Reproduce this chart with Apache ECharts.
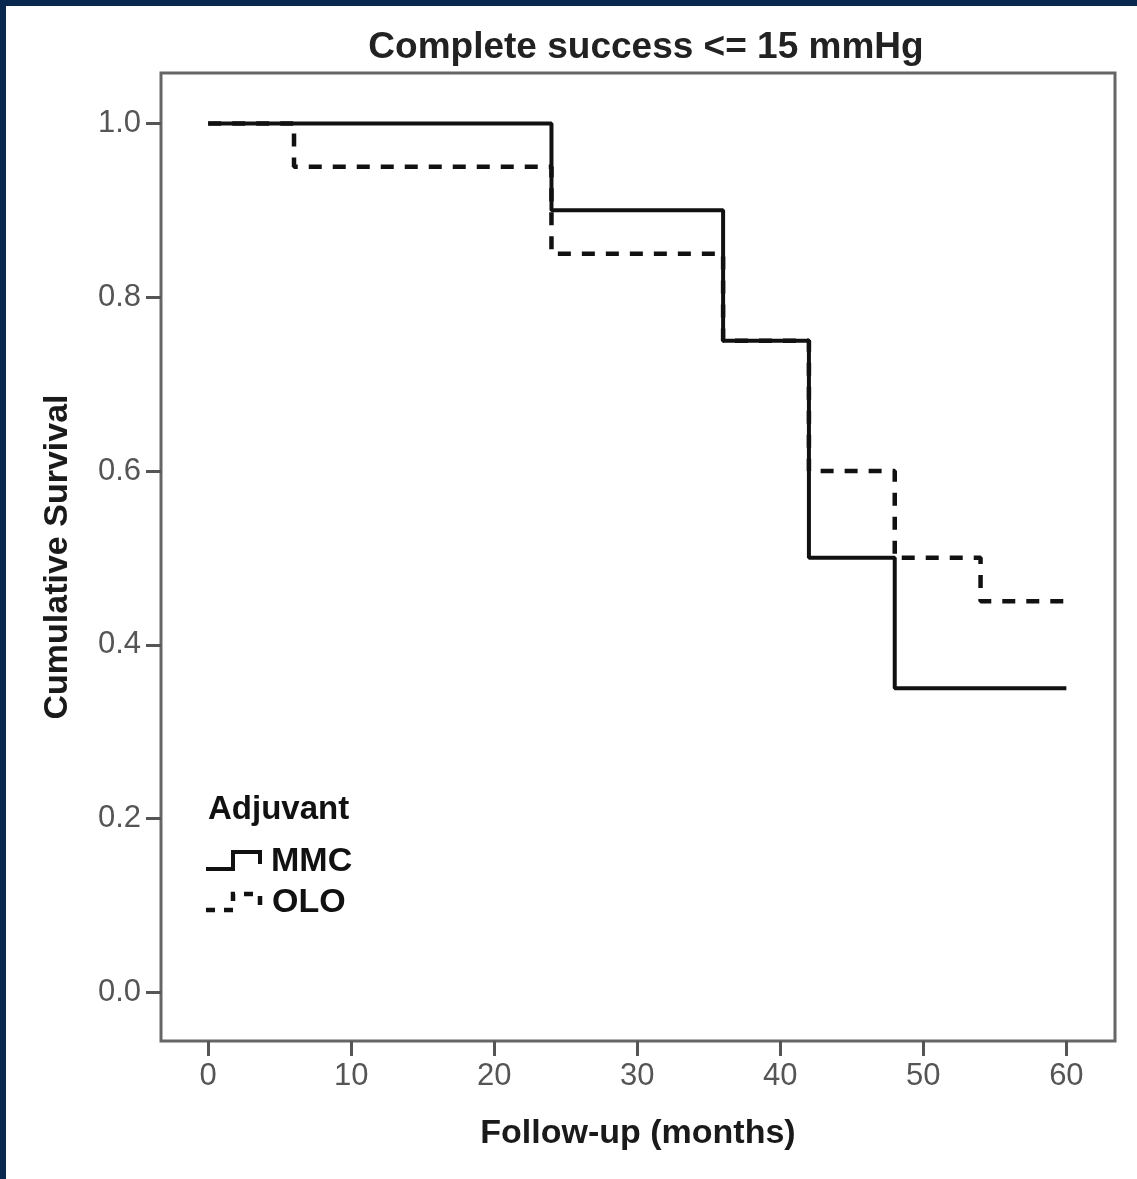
<!DOCTYPE html>
<html>
<head>
<meta charset="utf-8">
<script src="https://cdn.jsdelivr.net/npm/echarts@6/dist/echarts.min.js"></script>
<style>
  html, body { margin: 0; padding: 0; background: #fff; }
  #main { width: 1137px; height: 1179px; }
</style>
</head>
<body>
<div id="main"></div>
<script>
// Kaplan-Meier steps (months, cumulative survival)
const mmcTimes = [0, 24, 36, 42, 48, 60];
const mmcSurv = [1.0, 0.9, 0.75, 0.5, 0.35, 0.35];
const oloTimes = [0, 6, 24, 36, 42, 48, 54, 60];
const oloSurv = [1.0, 0.95, 0.85, 0.75, 0.6, 0.5, 0.45, 0.45];

const xTicks = [0, 10, 20, 30, 40, 50, 60];
const yTicks = [0, 0.2, 0.4, 0.6, 0.8, 1.0];

const font = '"Liberation Sans", Arial, sans-serif';

function pairs(times, surv) {
    return times.map(function (t, i) { return [t, surv[i]]; });
}

var myChart = echarts.init(document.getElementById('main'), null, { renderer: 'canvas' });

var option = {
    backgroundColor: '#fff',
    animation: false,
    title: {
        text: 'Complete success <= 15 mmHg',
        left: 641,
        textAlign: 'center',
        top: 24,
        textStyle: { fontFamily: font, fontSize: 37, fontWeight: 'bold', color: '#222' }
    },
    grid: {
        left: 161, right: 22, top: 73, bottom: 138,
        show: true, borderColor: '#666', borderWidth: 3, backgroundColor: '#fff'
    },
    xAxis: {
        type: 'value',
        min: -3.3, max: 63.4,
        name: 'Follow-up (months)',
        nameLocation: 'middle',
        nameGap: 76,
        nameTextStyle: { fontFamily: font, fontSize: 34, fontWeight: 'bold', color: '#1a1a1a' },
        axisLine: { show: false, onZero: false },
        splitLine: { show: false },
        axisTick: { show: true, inside: false, length: 15, customValues: xTicks, lineStyle: { color: '#555', width: 3 } },
        axisLabel: { customValues: xTicks, margin: 20, fontFamily: font, fontSize: 31, color: '#555' }
    },
    yAxis: {
        type: 'value',
        min: -0.056, max: 1.058,
        name: 'Cumulative Survival',
        nameLocation: 'middle',
        nameGap: 86,
        nameTextStyle: { fontFamily: font, fontSize: 34, fontWeight: 'bold', color: '#1a1a1a' },
        axisLine: { show: false, onZero: false },
        splitLine: { show: false },
        axisTick: { show: true, inside: false, length: 15, customValues: yTicks, lineStyle: { color: '#555', width: 3 } },
        axisLabel: {
            customValues: yTicks, margin: 20, fontFamily: font, fontSize: 31, color: '#555',
            formatter: function (v) { return v.toFixed(1); }
        }
    },
    series: [
        {
            name: 'OLO',
            type: 'line',
            step: 'end',
            symbol: 'none',
            silent: true,
            lineStyle: { color: '#111', width: 4.5, type: [13, 11] },
            data: pairs(oloTimes, oloSurv),
            z: 2
        },
        {
            name: 'MMC',
            type: 'line',
            step: 'end',
            symbol: 'none',
            silent: true,
            lineStyle: { color: '#111', width: 4 },
            data: pairs(mmcTimes, mmcSurv),
            z: 3
        }
    ],
    graphic: [
        // navy frame edges
        { type: 'rect', shape: { x: 0, y: 0, width: 1137, height: 6 }, style: { fill: '#08284f' } },
        { type: 'rect', shape: { x: 0, y: 0, width: 6, height: 1179 }, style: { fill: '#08284f' } },
        // legend
        { type: 'text', x: 208, y: 810, style: { text: 'Adjuvant', font: 'bold 33px ' + font, fill: '#111', textVerticalAlign: 'middle' } },
        {
            type: 'polyline',
            shape: { points: [[206, 869], [233, 869], [233, 852], [260, 852], [260, 864]] },
            style: { stroke: '#111', lineWidth: 4, fill: null }
        },
        { type: 'text', x: 271, y: 862, style: { text: 'MMC', font: 'bold 34px ' + font, fill: '#111', textVerticalAlign: 'middle' } },
        {
            type: 'polyline',
            shape: { points: [[206, 910], [233, 910], [233, 894], [260, 894], [260, 906]] },
            style: { stroke: '#111', lineWidth: 4.5, fill: null, lineDash: [9, 9] }
        },
        { type: 'text', x: 272, y: 903, style: { text: 'OLO', font: 'bold 34px ' + font, fill: '#111', textVerticalAlign: 'middle' } }
    ]
};

myChart.setOption(option);
window.addEventListener('resize', myChart.resize);
</script>
</body>
</html>
